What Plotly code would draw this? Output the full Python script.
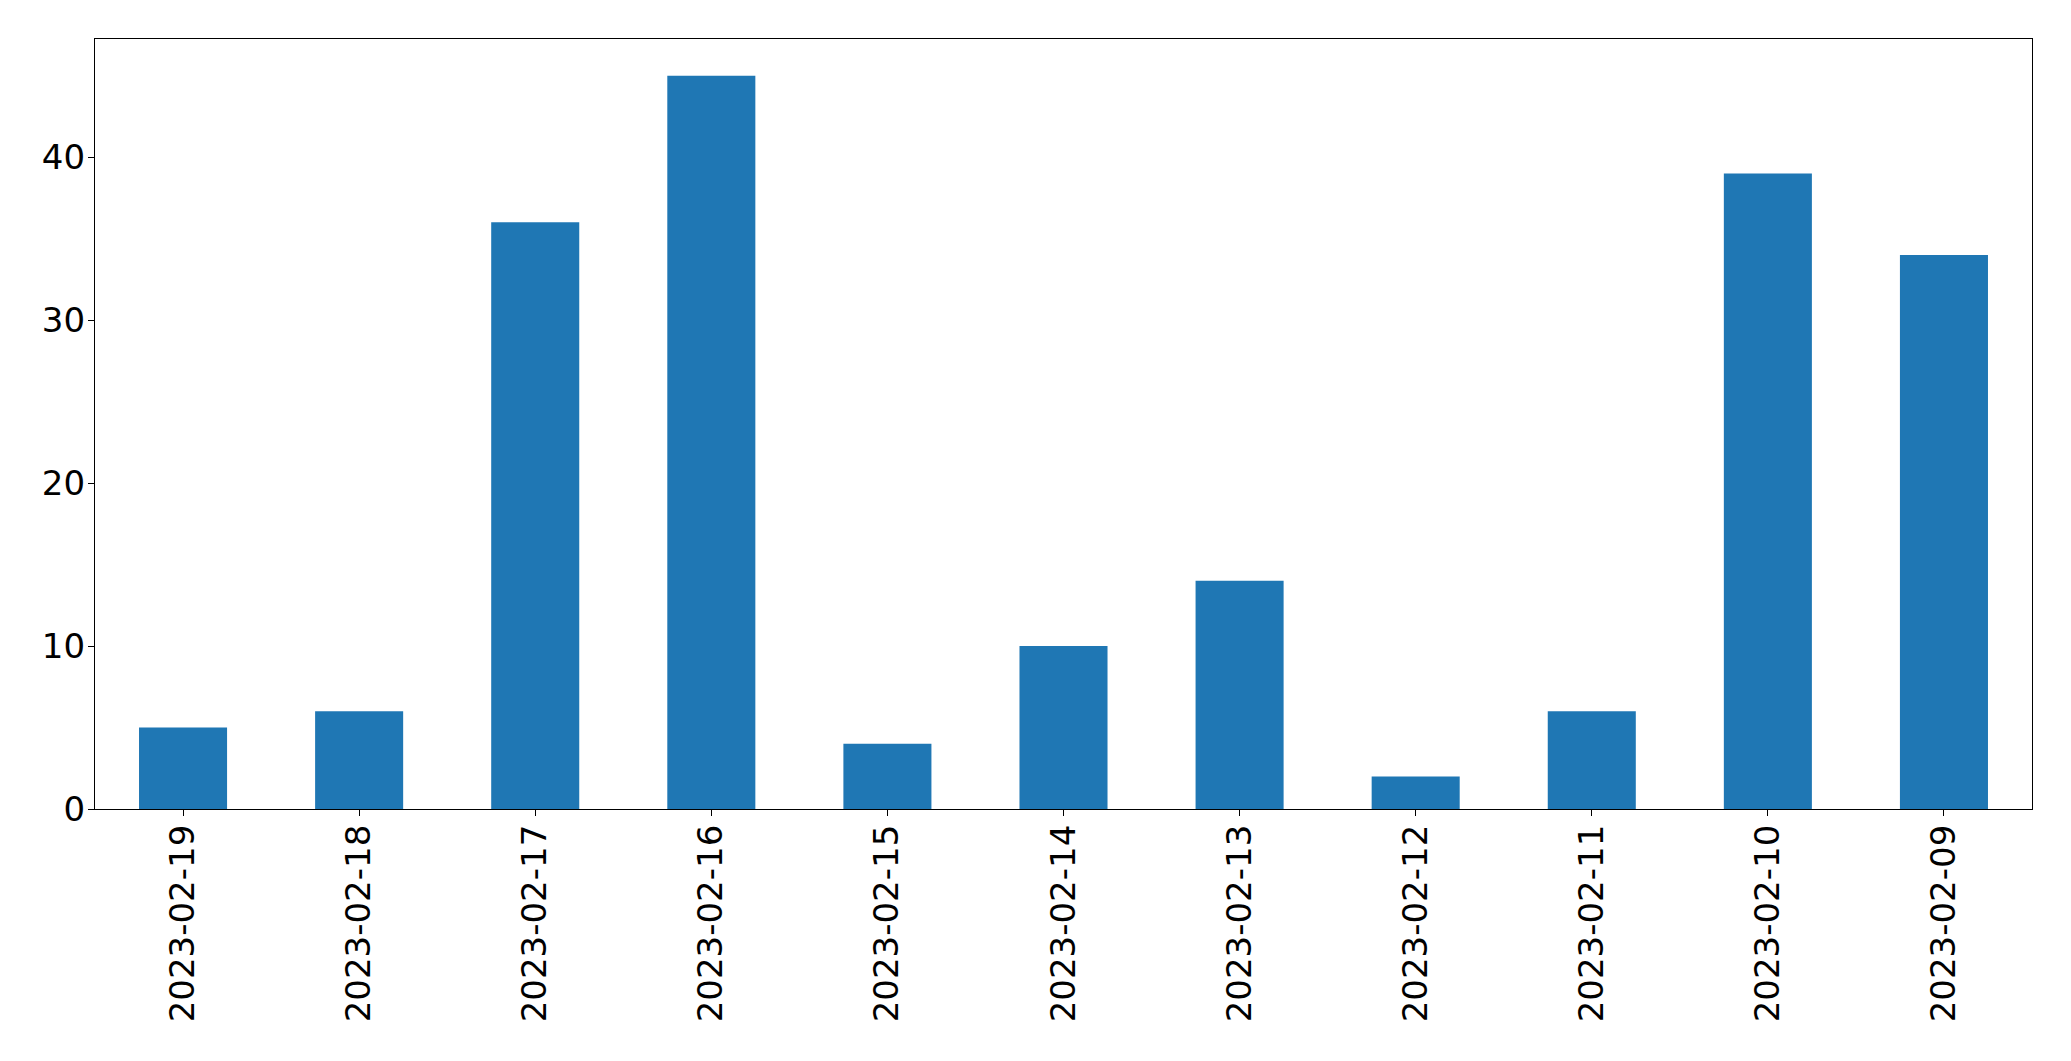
import plotly.graph_objects as go

dates = ["2023-02-19", "2023-02-18", "2023-02-17", "2023-02-16", "2023-02-15",
         "2023-02-14", "2023-02-13", "2023-02-12", "2023-02-11", "2023-02-10", "2023-02-09"]
counts = [5, 6, 36, 45, 4, 10, 14, 2, 6, 39, 34]
y_ticks = [0, 10, 20, 30, 40]

fig = go.Figure(go.Bar(x=dates, y=counts, marker=dict(color="#1f77b4", line=dict(width=0))))

font = dict(family="DejaVu Sans", size=34, color="black")
fig.update_layout(
    width=2071, height=1061,
    margin=dict(l=87, r=47, t=31, b=260),
    plot_bgcolor="white", paper_bgcolor="white",
    bargap=0.5, showlegend=False, font=font,
)
fig.update_xaxes(type="category", range=[-0.5, len(dates) - 0.5], tickangle=-90,
                 showline=True, linecolor="black", linewidth=1.3, mirror=True,
                 ticks="outside", ticklen=6, tickwidth=1.3, tickcolor="black",
                 showgrid=False, zeroline=False, tickfont=font, automargin=False,
                 ticklabelstandoff=-5)
fig.update_yaxes(range=[0, max(counts) * 1.05], tickvals=y_ticks,
                 showline=True, linecolor="black", linewidth=1.3, mirror=True,
                 ticks="outside", ticklen=6, tickwidth=1.3, tickcolor="black",
                 showgrid=False, zeroline=False, tickfont=font, automargin=False,
                 ticklabelstandoff=-4)

fig.write_html("out.html")
